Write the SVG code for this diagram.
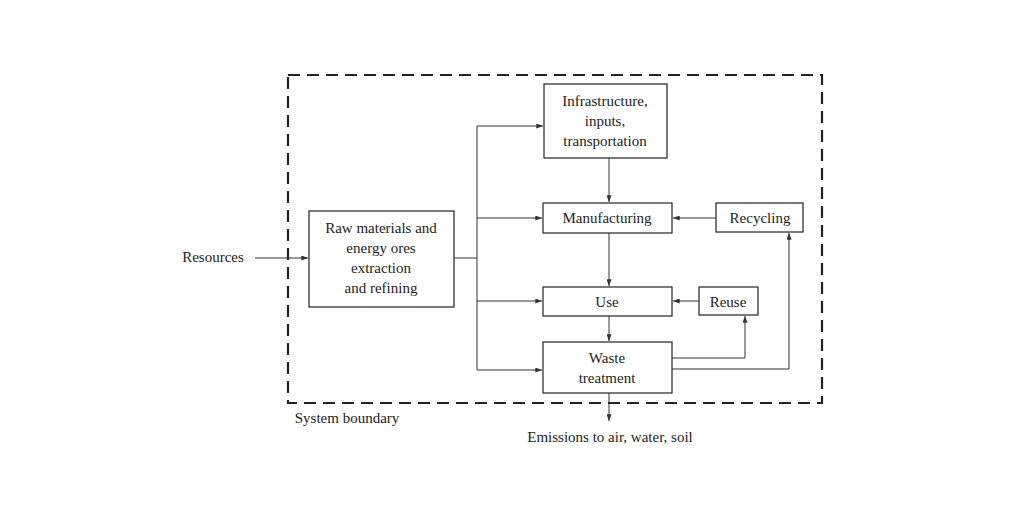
<svg xmlns="http://www.w3.org/2000/svg" width="1024" height="512" viewBox="0 0 1024 512">
<style>
text{font-family:"Liberation Serif","DejaVu Serif",serif;font-size:15px;fill:#222;text-anchor:middle}
.b{fill:#fff;stroke:#333;stroke-width:1.3}
.c{fill:none;stroke:#333;stroke-width:1}
</style>
<defs><marker id="a" viewBox="0 0 8 6" refX="8" refY="3" markerWidth="7" markerHeight="5" orient="auto"><path d="M0,0L8,3L0,6z" fill="#333"/></marker></defs>
<rect width="1024" height="512" fill="#fff"/>
<rect x="288" y="75" width="534" height="328" fill="none" stroke="#222" stroke-width="2.2" stroke-dasharray="12,7"/>
<text x="347" y="423">System boundary</text>
<g id="connectors">
<path class="c" d="M255,258H308" marker-end="url(#a)"/>
<path class="c" d="M454,258H477"/>
<path class="c" d="M477,126V370"/>
<path class="c" d="M477,126H543" marker-end="url(#a)"/>
<path class="c" d="M477,218H542" marker-end="url(#a)"/>
<path class="c" d="M477,301H542" marker-end="url(#a)"/>
<path class="c" d="M477,370H542" marker-end="url(#a)"/>
<path class="c" d="M609,158V202" marker-end="url(#a)"/>
<path class="c" d="M609,233V286" marker-end="url(#a)"/>
<path class="c" d="M609,316V341" marker-end="url(#a)"/>
<path class="c" d="M716,218H673" marker-end="url(#a)"/>
<path class="c" d="M699,301H673" marker-end="url(#a)"/>
<path class="c" d="M672,358H745V316" marker-end="url(#a)"/>
<path class="c" d="M672,369H789V233" marker-end="url(#a)"/>
<path class="c" d="M609,393V421" marker-end="url(#a)"/>
</g>
<g id="resources"><text x="213" y="262">Resources</text></g>
<g id="raw"><rect class="b" x="309" y="211" width="145" height="96"/><text x="381" y="233">Raw materials and</text><text x="381" y="253">energy ores</text><text x="381" y="273">extraction</text><text x="381" y="293">and refining</text></g>
<g id="infra"><rect class="b" x="544" y="84" width="123" height="74"/><text x="605" y="106">Infrastructure,</text><text x="605" y="126">inputs,</text><text x="605" y="146">transportation</text></g>
<g id="manufacturing"><rect class="b" x="543" y="203" width="129" height="30"/><text x="607" y="223">Manufacturing</text></g>
<g id="recycling"><rect class="b" x="716" y="203" width="87" height="29"/><text x="760" y="223">Recycling</text></g>
<g id="use"><rect class="b" x="543" y="287" width="129" height="29"/><text x="607" y="307">Use</text></g>
<g id="reuse"><rect class="b" x="699" y="287" width="59" height="28"/><text x="728" y="307">Reuse</text></g>
<g id="waste"><rect class="b" x="543" y="342" width="129" height="51"/><text x="607" y="363">Waste</text><text x="607" y="383">treatment</text></g>
<g id="emissions"><text x="610" y="442">Emissions to air, water, soil</text></g>
</svg>
